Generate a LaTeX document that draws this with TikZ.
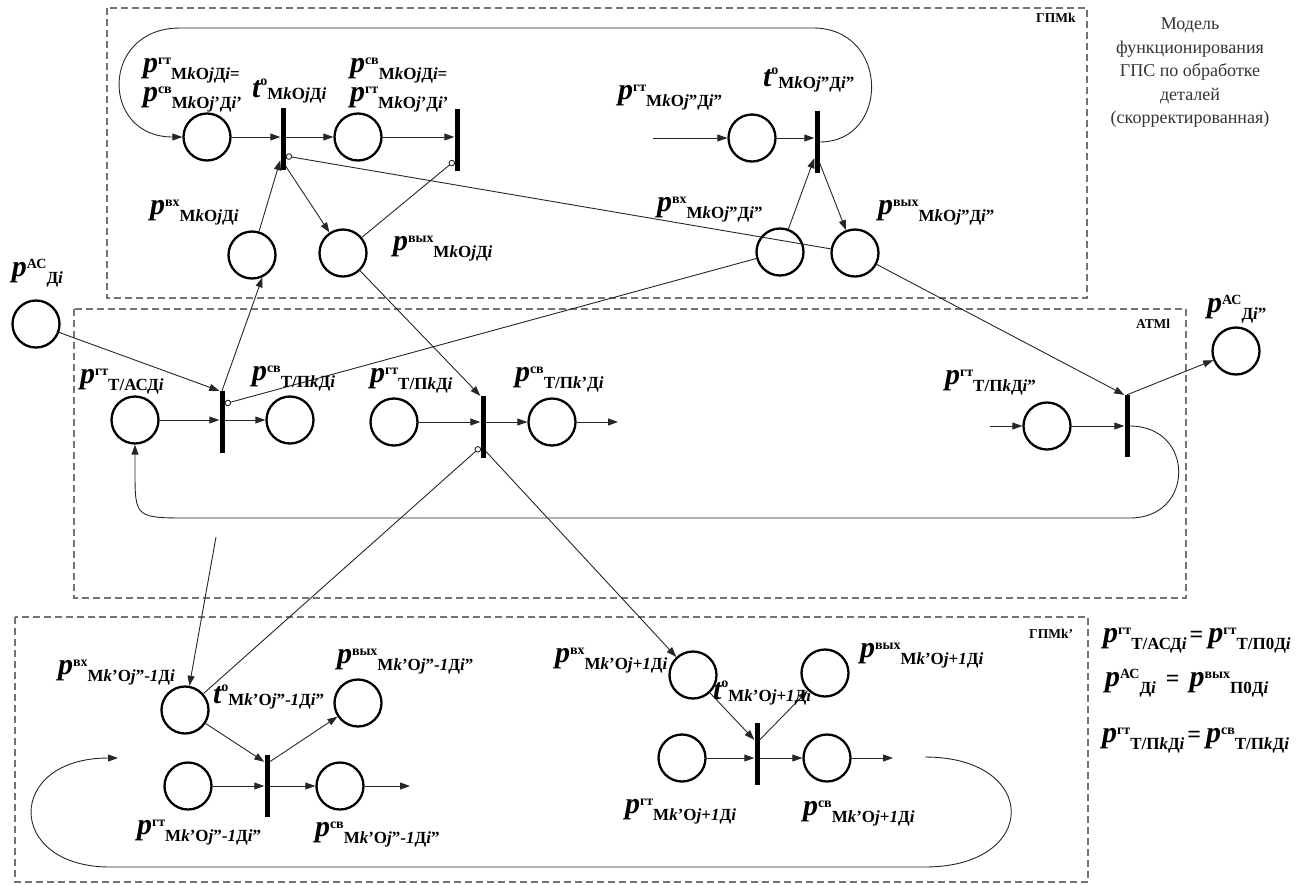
\documentclass[tikz,border=0pt]{standalone}
\usepackage{fontspec}
\setmainfont{Liberation Serif}
\usetikzlibrary{arrows.meta,calc}
\newcommand\iti[1]{\textit{#1}}
\newcommand\plab[3]{{\fontsize{30}{30}\selectfont\bfseries\itshape #1}\raisebox{8pt}{\fontsize{14}{14}\selectfont\bfseries #2}\raisebox{-7pt}{\fontsize{17}{17}\selectfont\bfseries #3}}
\newcommand\tlab[3]{{\fontsize{30}{30}\selectfont\bfseries\itshape #1}\raisebox{12pt}{\fontsize{14}{14}\selectfont\bfseries #2}\raisebox{-2pt}{\fontsize{17}{17}\selectfont\bfseries #3}}
\newcommand\eqsign{\kern3pt{\fontsize{24}{24}\selectfont\bfseries =}\kern5pt}
\newcommand\eqsignw{\kern10pt{\fontsize{24}{24}\selectfont\bfseries =}\kern10pt}
\begin{document}
\begin{tikzpicture}[x=1pt,y=-1pt,
  pnode/.style={circle, draw=black, line width=2.3pt, minimum size=47pt, inner sep=0pt},
  tbar/.style={rectangle, fill=black, minimum width=5pt, minimum height=62pt, inner sep=0pt},
  con/.style={draw=black!85, line width=0.9pt, -{Triangle[length=10pt,width=7pt]}},
  inh/.style={draw=black!85, line width=0.9pt, -{Circle[open,length=6.5pt,width=6.5pt]}},
  lbl/.style={anchor=base west, inner sep=0pt, outer sep=0pt},
  glbl/.style={anchor=base west, inner sep=0pt, font=\fontsize{13.5}{13.5}\selectfont\bfseries},
  grp/.style={draw=black!55, dash pattern=on 7pt off 4pt, line width=1.1pt}]
\path[use as bounding box] (0,0) rectangle (1308,884);
% group boxes
\draw[grp] (107,8) rectangle (1087,298);
\draw[grp] (74,309) rectangle (1186,598);
\draw[grp] (15,617) rectangle (1088,882);
\node[glbl] (g1) at (1036,22) {ГПМk};
\node[glbl] (g2) at (1136,328) {АТМl};
\node[glbl] (g3) at (1029,638) {ГПМk'};
% title
\node[align=center, font=\fontsize{18}{23.5}\selectfont, text=black!80] (title) at (1190,73) {Модель\\функционирования\\ГПС по обработке\\деталей\\(скорректированная)};
% places
\node[pnode] (P1) at (207,137) {};
\node[pnode] (P2) at (358,137) {};
\node[pnode] (Pvx) at (252,255) {};
\node[pnode] (Pvyh) at (343,253) {};
\node[pnode] (P3) at (752,138) {};
\node[pnode] (Pvx2) at (780,252) {};
\node[pnode] (Pvyh2) at (855,253) {};
\node[pnode] (PAC) at (36,324) {};
\node[pnode] (PTAC) at (135,420) {};
\node[pnode] (PTsv) at (290,420) {};
\node[pnode] (PTgt) at (394,422) {};
\node[pnode] (PTsv2) at (552,422) {};
\node[pnode] (PTgt2) at (1047,426) {};
\node[pnode] (PAC2) at (1236,351) {};
\node[pnode] (Pbvx) at (185,710) {};
\node[pnode] (Pbvyh) at (358,703) {};
\node[pnode] (Pbgt) at (188,786) {};
\node[pnode] (Pbsv) at (340,786) {};
\node[pnode] (Pb2vx) at (693,675) {};
\node[pnode] (Pb2vyh) at (825,673) {};
\node[pnode] (Pb2gt) at (682,758) {};
\node[pnode] (Pb2sv) at (827,758) {};
% transitions
\node[tbar] (T1) at (283,139) {};
\node[tbar] (T2) at (457,140) {};
\node[tbar] (T3) at (817,142) {};
\node[tbar] (Ta) at (222,422) {};
\node[tbar] (Tb) at (483,427) {};
\node[tbar] (Tc) at (1127,426) {};
\node[tbar] (Td) at (267,786) {};
\node[tbar] (Te) at (757,754) {};
% free ends
\coordinate (in3) at (653,138);
\coordinate (out1) at (618,422);
\coordinate (in4) at (990,426);
\coordinate (f1) at (216,537);
\coordinate (out2) at (410,786);
\coordinate (out3) at (893,758);
\coordinate (lb1) at (925,757);
\coordinate (lb2) at (118,758);
% connectors box 1
\draw[con] (P1.east) -- (T1.west |- P1);
\draw[con] (T1.east |- P2) -- (P2.west);
\draw[con] (P2.east) -- (T2.west |- P2);
\draw[con] (Pvx) -- ($(T1.south west)+(0,-10)$);
\draw[con] ($(T1.south east)+(0,-4)$) -- (Pvyh);
\draw[inh] (Pvyh2) -- ($(T1.east)+(0,17)$);
\draw[inh] (Pvyh) -- ($(T2.west)+(0,21)$);
\draw[con] (in3) -- (P3);
\draw[con] (P3.east) -- (T3.west |- P3);
\draw[con] (Pvx2) -- ($(T3.south west)+(0,-15)$);
\draw[con] ($(T3.south east)+(0,-10)$) -- (Pvyh2);
\draw[con] (T3.east) .. controls (890,142) and (890,28) .. (813,28) -- (180,28) .. controls (100,28) and (100,137) .. (P1.west);
% connectors ATM
\draw[con] (PAC) -- (Ta.north west);
\draw[con] (PTAC.east) -- (Ta.west |- PTAC);
\draw[con] (Ta.east |- PTsv) -- (PTsv.west);
\draw[con] (Ta.north) -- (Pvx.-65);
\draw[inh] (Pvx2) -- ($(Ta.north east)+(0,13)$);
\draw[con] (PTgt.east) -- (Tb.west |- PTgt);
\draw[con] (Tb.east |- PTsv2) -- (PTsv2.west);
\draw[con] (PTsv2.east) -- (out1);
\draw[con] (Pvyh) -- (Tb.north west);
\draw[inh] (Pbvx) -- ($(Tb.south west)+(0,-11)$);
\draw[con] ($(Tb.south east)+(0,-7)$) -- (Pb2vx);
\draw[con] (f1) -- (Pbvx);
\draw[con] (in4) -- (PTgt2.west);
\draw[con] (PTgt2.east) -- (Tc.west |- PTgt2);
\draw[con] (Pvyh2) -- (Tc.north west);
\draw[con] (Tc.north) -- (PAC2);
\draw[con] (Tc.east) .. controls (1195,426) and (1195,518) .. (1130,518) -- (190,518) .. controls (135,518) and (135,518) .. (135,470) -- (PTAC.south);
% connectors bottom box
\draw[con] (Pbvx) -- ($(Td.north west)+(0,7)$);
\draw[con] ($(Td.north east)+(0,7)$) -- (Pbvyh);
\draw[con] (Pbgt.east) -- (Td.west |- Pbgt);
\draw[con] (Td.east |- Pbsv) -- (Pbsv.west);
\draw[con] (Pbsv.east) -- (out2);
\draw[con] (Pb2vx) -- ($(Te.north west)+(0,17)$);
\draw[con] ($(Te.north east)+(0,17)$) -- (Pb2vyh);
\draw[con] (Pb2gt.east) -- (Te.west |- Pb2gt);
\draw[con] (Te.east |- Pb2sv) -- (Pb2sv.west);
\draw[con] (Pb2sv.east) -- (out3);
\draw[con] (lb1) .. controls (1040,757) and (1040,867) .. (925,867) -- (110,867) .. controls (5,867) and (5,758) .. (lb2);
% labels box 1
\node[lbl] (L1a) at (143,72) {\plab{p}{гт}{M\iti{k}O\iti{j}Д\iti{i}=}};
\node[lbl] (L1b) at (143,101) {\plab{p}{св}{M\iti{k}O\iti{j}'Д\iti{i}'}};
\node[lbl] (Lt1) at (252,97) {\tlab{t}{о}{M\iti{k}O\iti{j}Д\iti{i}}};
\node[lbl] (L2a) at (350,72) {\plab{p}{св}{M\iti{k}O\iti{j}Д\iti{i}=}};
\node[lbl] (L2b) at (350,101) {\plab{p}{гт}{M\iti{k}O\iti{j}'Д\iti{i}'}};
\node[lbl] (Lvx) at (150,214) {\plab{p}{вх}{M\iti{k}O\iti{j}Д\iti{i}}};
\node[lbl] (Lvyh) at (393,250) {\plab{p}{вых}{M\iti{k}O\iti{j}Д\iti{i}}};
\node[lbl] (L3) at (618,99) {\plab{p}{гт}{M\iti{k}O\iti{j}''Д\iti{i}''}};
\node[lbl] (Lt3) at (763,86) {\tlab{t}{о}{M\iti{k}O\iti{j}''Д\iti{i}''}};
\node[lbl] (Lvx2) at (657,211) {\plab{p}{вх}{M\iti{k}O\iti{j}''Д\iti{i}''}};
\node[lbl] (Lvyh2) at (878,214) {\plab{p}{вых}{M\iti{k}O\iti{j}''Д\iti{i}''}};
% labels ATM
\node[lbl] (LAC) at (12,276) {\plab{p}{АС}{Д\iti{i}}};
\node[lbl] (LTAC) at (80,383) {\plab{p}{гт}{Т/АСД\iti{i}}};
\node[lbl] (LTsv) at (252,380) {\plab{p}{св}{Т/П\iti{k}Д\iti{i}}};
\node[lbl] (LTgt) at (370,382) {\plab{p}{гт}{Т/П\iti{k}Д\iti{i}}};
\node[lbl] (LTsv2) at (515,381) {\plab{p}{св}{Т/П\iti{k}'Д\iti{i}}};
\node[lbl] (LTgt2) at (945,384) {\plab{p}{гт}{Т/П\iti{k}Д\iti{i}''}};
\node[lbl] (LAC2) at (1207,312) {\plab{p}{АС}{Д\iti{i}''}};
% labels bottom box
\node[lbl] (Lbvx) at (58,674) {\plab{p}{вх}{M\iti{k}'O\iti{j}''-\iti{1}Д\iti{i}}};
\node[lbl] (Lbt) at (213,703) {\tlab{t}{о}{M\iti{k}'O\iti{j}''-\iti{1}Д\iti{i}''}};
\node[lbl] (Lbvyh) at (337,663) {\plab{p}{вых}{M\iti{k}'O\iti{j}''-\iti{1}Д\iti{i}''}};
\node[lbl] (Lbgt) at (137,834) {\plab{p}{гт}{M\iti{k}'O\iti{j}''-\iti{1}Д\iti{i}''}};
\node[lbl] (Lbsv) at (315,836) {\plab{p}{св}{M\iti{k}'O\iti{j}''-\iti{1}Д\iti{i}''}};
\node[lbl] (Lb2vx) at (555,662) {\plab{p}{вх}{M\iti{k}'O\iti{j}+\iti{1}Д\iti{i}}};
\node[lbl] (Lb2t) at (713,699) {\tlab{t}{о}{M\iti{k}'O\iti{j}+\iti{1}Д\iti{i}}};
\node[lbl] (Lb2vyh) at (860,657) {\plab{p}{вых}{M\iti{k}'O\iti{j}+\iti{1}Д\iti{i}}};
\node[lbl] (Lb2gt) at (625,813) {\plab{p}{гт}{M\iti{k}'O\iti{j}+\iti{1}Д\iti{i}}};
\node[lbl] (Lb2sv) at (803,815) {\plab{p}{св}{M\iti{k}'O\iti{j}+\iti{1}Д\iti{i}}};
% equations
\node[lbl] (E1) at (1103,642) {\plab{p}{гт}{Т/АСД\iti{i}}\eqsign\plab{p}{гт}{Т/П0Д\iti{i}}};
\node[lbl] (E2) at (1105,686) {\plab{p}{АС}{Д\iti{i}}\eqsignw\plab{p}{вых}{П0Д\iti{i}}};
\node[lbl] (E3) at (1102,742) {\plab{p}{гт}{Т/П\iti{k}Д\iti{i}}\eqsign\plab{p}{св}{Т/П\iti{k}Д\iti{i}}};
\end{tikzpicture}
\end{document}
